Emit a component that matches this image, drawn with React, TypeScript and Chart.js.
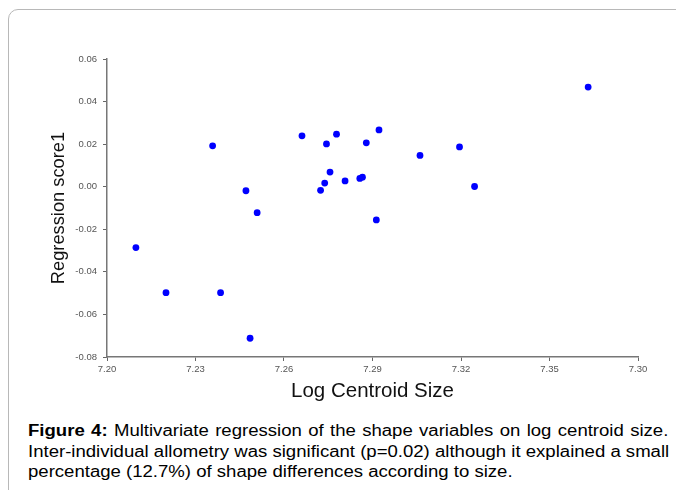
import React, { useEffect, useRef } from 'react';
import { Chart, registerables } from 'chart.js';
Chart.register(...registerables);

const logCentroidSize = [7.2098, 7.22, 7.2385, 7.2485, 7.2358, 7.2471, 7.2509, 7.2661, 7.2744, 7.2778, 7.2879, 7.2922, 7.2756, 7.2738, 7.2724, 7.2807, 7.2857, 7.2866, 7.2913, 7.3061, 7.3195, 7.3246, 7.3631];
const regressionScore1 = [-0.0286, -0.0498, -0.0498, -0.0712, 0.0192, -0.0019, -0.0122, 0.0239, 0.0201, 0.0247, 0.0206, 0.0267, 0.0069, 0.0017, -0.0017, 0.0027, 0.0039, 0.0045, -0.0156, 0.0147, 0.0187, 0.0001, 0.0468];
const xTickValues = [7.2, 7.23, 7.26, 7.29, 7.32, 7.35, 7.38];
const xTickLabels = ['7.20', '7.23', '7.26', '7.29', '7.32', '7.35', '7.30'];
const yTickValues = [-0.08, -0.06, -0.04, -0.02, 0, 0.02, 0.04, 0.06];
const yTickLabels = ['-0.08', '-0.06', '-0.04', '-0.02', '0.00', '0.02', '0.04', '0.06'];

const FONT = '"Liberation Sans", Arial, sans-serif';

export default function App() {
  const ref = useRef<HTMLCanvasElement | null>(null);

  useEffect(() => {
    if (!ref.current) return;
    const chart = new Chart(ref.current, {
      type: 'scatter',
      data: {
        datasets: [
          {
            data: logCentroidSize.map((x, i) => ({ x, y: regressionScore1[i] })),
            backgroundColor: '#0000ff',
            borderColor: '#0000ff',
            borderWidth: 0,
            pointRadius: 3.4,
          },
        ],
      },
      options: {
        responsive: false,
        animation: false,
        layout: { padding: { top: 59, right: 38, bottom: 6, left: 30 } },
        plugins: { legend: { display: false }, tooltip: { enabled: false } },
        scales: {
          x: {
            type: 'linear',
            min: 7.2,
            max: 7.38,
            afterBuildTicks: (s: any) => {
              s.ticks = xTickValues.map((value) => ({ value }));
            },
            afterFit: (s: any) => {
              s.height = 47;
            },
            ticks: {
              callback: (_v: any, i: number) => xTickLabels[i],
              font: { family: FONT, size: 9.5 },
              color: '#555',
              padding: 3,
              maxRotation: 0,
              autoSkip: false,
            },
            grid: { drawOnChartArea: false, drawTicks: true, tickLength: 4, color: '#666', lineWidth: 1 },
            border: { color: '#777', width: 1.5 },
            title: { display: true, text: 'Log Centroid Size', font: { family: FONT, size: 20.5 }, color: '#111', padding: 0 },
          },
          y: {
            type: 'linear',
            min: -0.08,
            max: 0.06,
            afterBuildTicks: (s: any) => {
              s.ticks = yTickValues.map((value) => ({ value }));
            },
            afterFit: (s: any) => {
              s.width = 77;
            },
            ticks: {
              callback: (_v: any, i: number) => yTickLabels[i],
              font: { family: FONT, size: 9.5 },
              color: '#555',
              padding: 6,
              autoSkip: false,
            },
            grid: { drawOnChartArea: false, drawTicks: true, tickLength: 4, color: '#666', lineWidth: 1 },
            border: { color: '#777', width: 1.5 },
            title: { display: true, text: 'Regression score1', font: { family: FONT, size: 18.3 }, color: '#111', padding: { top: 18, bottom: 0 } },
          },
        },
      },
    });
    return () => chart.destroy();
  }, []);

  return (
    <div style={{ position: 'fixed', left: 0, top: 0, width: 676, height: 490, overflow: 'hidden', background: '#fff' }}>
      <div
        style={{
          position: 'absolute',
          left: 8,
          top: 9,
          width: 720,
          height: 540,
          border: '1px solid #b8b8b8',
          borderRadius: 10,
          boxSizing: 'border-box',
        }}
      />
      <canvas ref={ref} width={676} height={410} style={{ position: 'absolute', left: 0, top: 0, width: 676, height: 410 }} />
      <div
        style={{
          position: 'absolute',
          left: 28,
          top: 421,
          width: 552,
          transform: 'scaleX(1.16)',
          transformOrigin: '0 0',
          fontFamily: FONT,
          fontSize: 16,
          lineHeight: '20.7px',
          color: '#000',
        }}
      >
        <div style={{ textAlign: 'justify', textAlignLast: 'justify', whiteSpace: 'nowrap' as any }}>
          <b>Figure 4:</b> Multivariate regression of the shape variables on log centroid size.
        </div>
        <div style={{ textAlign: 'justify', textAlignLast: 'justify', whiteSpace: 'nowrap' as any }}>
          Inter-individual allometry was significant (p=0.02) although it explained a small
        </div>
        <div style={{ whiteSpace: 'nowrap' as any }}>percentage (12.7%) of shape differences according to size.</div>
      </div>
    </div>
  );
}
